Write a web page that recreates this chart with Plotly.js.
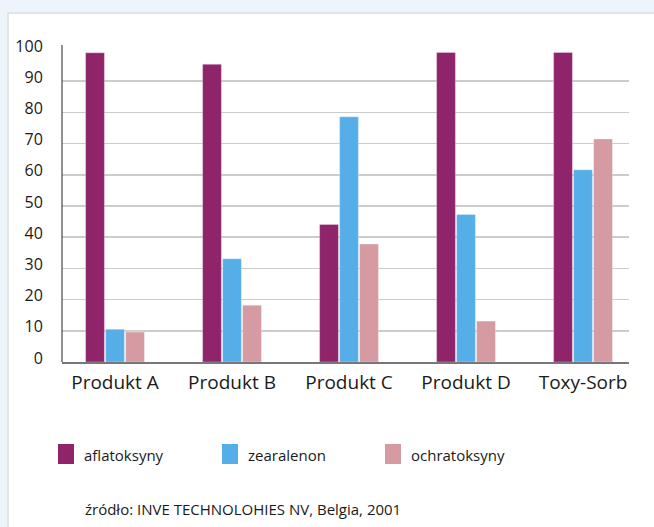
<!DOCTYPE html>
<html>
<head>
<meta charset="utf-8">
<script src="https://cdn.plot.ly/plotly-3.0.1.min.js"></script>
<style>
html,body{margin:0;padding:0;background:#edf4fb;}
#chart{width:654px;height:527px;}
</style>
</head>
<body>
<div id="chart"></div>
<script>
const categories = ["Produkt A", "Produkt B", "Produkt C", "Produkt D", "Toxy-Sorb"];
const seriesNames = ["aflatoksyny", "zearalenon", "ochratoksyny"];
const aflatoksyny = [99.1, 95.4, 44.1, 99.2, 99.2];
const zearalenon = [10.5, 33.1, 78.6, 47.3, 61.6];
const ochratoksyny = [9.6, 18.2, 37.8, 13.1, 71.5];
const yTicks = [0, 10, 20, 30, 40, 50, 60, 70, 80, 90, 100];
const sourceText = "źródło: INVE TECHNOLOHIES NV, Belgia, 2001";
const colors = ["#8f246b", "#56aee8", "#d59aa2"];

const seriesValues = [aflatoksyny, zearalenon, ochratoksyny];
const traces = seriesValues.map((vals, i) => ({
  type: "bar",
  name: seriesNames[i],
  x: categories,
  y: vals,
  marker: {color: colors[i], line: {color: "rgba(255,255,255,0.6)", width: 0.5}},
  showlegend: false,
  hoverinfo: "x+y+name"
}));

// geometry helpers (paper coords relative to plot area)
const L = 62, R = 25, T = 50, B = 165, W = 654, H = 527;
const pw = W - L - R, ph = H - T - B;
const px = x => (x - L) / pw;
const py = y => (H - B - y) / ph;

const shapes = [
  {type: "rect", xref: "paper", yref: "paper", layer: "below",
   x0: px(8), x1: px(660), y0: py(540), y1: py(13),
   fillcolor: "#ffffff", line: {color: "#e2e5e8", width: 2}},
  {type: "line", xref: "paper", yref: "paper",
   x0: 0, x1: 0, y0: 0, y1: py(45), line: {color: "#222222", width: 1}}
];
const annotations = [];
const legendX = [58, 222, 385];
const textFont = {family: "Open Sans, sans-serif", size: 15, color: "#1a1a1a"};
seriesNames.forEach((n, i) => {
  shapes.push({type: "rect", xref: "paper", yref: "paper",
    x0: px(legendX[i]), x1: px(legendX[i] + 16), y0: py(464), y1: py(444),
    fillcolor: colors[i], line: {width: 0}});
  annotations.push({xref: "paper", yref: "paper", x: px(legendX[i] + 24), y: py(455),
    text: n, showarrow: false, xanchor: "left", yanchor: "middle", font: textFont});
});
annotations.push({xref: "paper", yref: "paper", x: px(83), y: py(509),
  text: sourceText, showarrow: false, xanchor: "left", yanchor: "middle",
  font: {family: "Open Sans, sans-serif", size: 15, color: "#1a1a1a"}});

const layout = {
  width: W, height: H,
  margin: {l: L, r: R, t: T, b: B, pad: 0},
  paper_bgcolor: "#edf4fb",
  plot_bgcolor: "rgba(0,0,0,0)",
  barmode: "group",
  bargap: 0.487,
  bargroupgap: 0.06,
  font: {family: "Open Sans, sans-serif", color: "#1a1a1a"},
  xaxis: {
    type: "category",
    range: [-0.453, 4.393],
    showgrid: false,
    showline: true, linecolor: "#777777", linewidth: 2,
    ticks: "outside", ticklen: 2, tickcolor: "rgba(0,0,0,0)",
    tickfont: {family: "Open Sans, sans-serif", size: 19, color: "#1a1a1a"},
    fixedrange: true
  },
  yaxis: {
    range: [0, 100],
    tickvals: yTicks,
    ticktext: yTicks.map(String),
    showgrid: true, gridcolor: "#cccccc", gridwidth: 1.5,
    zeroline: false,
    showline: false,
    ticks: "outside", ticklen: 15, tickcolor: "rgba(0,0,0,0)",
    ticklabelshift: -4,
    tickfont: {family: "Open Sans, sans-serif", size: 16, color: "#1a1a1a"},
    fixedrange: true
  },
  shapes: shapes,
  annotations: annotations,
  showlegend: false
};

Plotly.newPlot("chart", traces, layout, {displayModeBar: false, staticPlot: true});
</script>
</body>
</html>
